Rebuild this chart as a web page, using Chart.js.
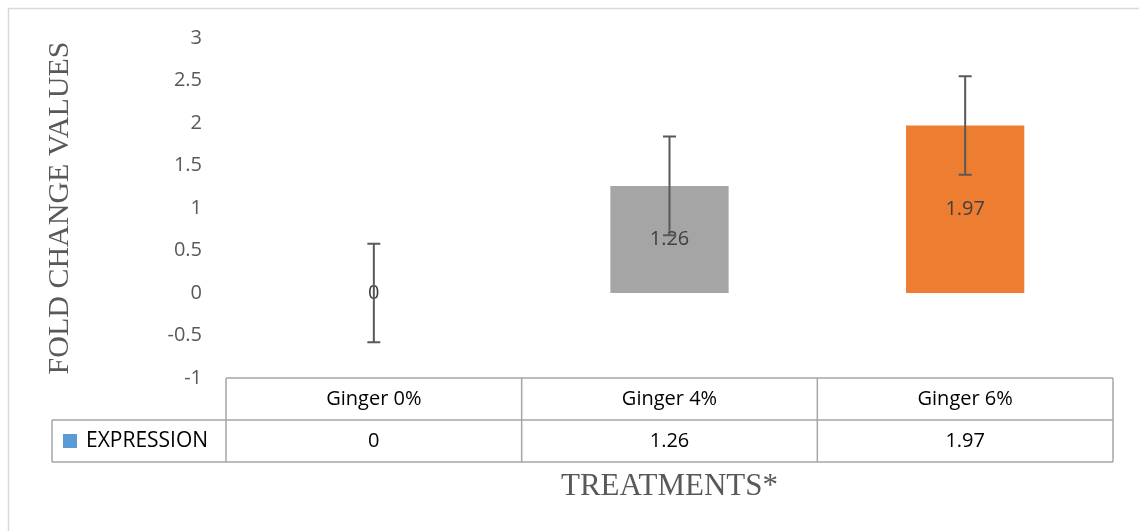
<!DOCTYPE html>
<html>
<head>
<meta charset="utf-8">
<script src="https://cdn.jsdelivr.net/npm/chart.js@4.4.1/dist/chart.umd.min.js"></script>
<style>
  html, body { margin: 0; padding: 0; background: #fff; }
  canvas { display: block; }
</style>
</head>
<body>
<canvas id="chart" width="1139" height="531"></canvas>
<script>
const categories = ['Ginger 0%', 'Ginger 4%', 'Ginger 6%'];
const expression = [0, 1.26, 1.97];
const errors = [0.58, 0.58, 0.58];
const valueLabels = ['0', '1.26', '1.97'];
const barColors = ['#5B9BD5', '#A5A5A5', '#ED7D31'];
const seriesName = 'EXPRESSION';
const yTitle = 'FOLD CHANGE VALUES';
const xTitle = 'TREATMENTS*';

const sans = '"Open Sans", sans-serif';
const serif = '"Liberation Serif", "Times New Roman", serif';

// light frame around the chart (only top/left show in the picture)
const framePlugin = {
    id: 'frame',
    beforeDraw(chart) {
        const ctx = chart.ctx;
        ctx.save();
        ctx.strokeStyle = '#d9d9d9';
        ctx.lineWidth = 1.5;
        ctx.beginPath();
        ctx.moveTo(8.5, chart.height + 2);
        ctx.lineTo(8.5, 8.5);
        ctx.lineTo(chart.width + 2, 8.5);
        ctx.stroke();
        ctx.restore();
    }
};

// value labels in the middle of each bar + error bars
const barExtras = {
    id: 'barExtras',
    afterDatasetsDraw(chart) {
        const ctx = chart.ctx, y = chart.scales.y;
        const meta = chart.getDatasetMeta(0);
        ctx.save();
        ctx.font = '20px ' + sans;
        ctx.fillStyle = '#404040';
        ctx.textAlign = 'center';
        ctx.textBaseline = 'middle';
        meta.data.forEach((bar, i) => {
            ctx.fillText(valueLabels[i], bar.x, (bar.y + bar.base) / 2);
        });
        ctx.strokeStyle = '#595959';
        ctx.lineWidth = 2;
        meta.data.forEach((bar, i) => {
            const v = expression[i], e = errors[i];
            const top = y.getPixelForValue(v + e), bot = y.getPixelForValue(v - e);
            ctx.beginPath();
            ctx.moveTo(bar.x, top); ctx.lineTo(bar.x, bot);
            ctx.moveTo(bar.x - 6.5, top); ctx.lineTo(bar.x + 6.5, top);
            ctx.moveTo(bar.x - 6.5, bot); ctx.lineTo(bar.x + 6.5, bot);
            ctx.stroke();
        });
        ctx.restore();
    }
};

// data table under the plot, plus x title
const dataTable = {
    id: 'dataTable',
    afterDraw(chart) {
        const ctx = chart.ctx, x = chart.scales.x, area = chart.chartArea;
        const n = categories.length;
        const cw = (area.right - area.left) / n;
        const rowH = 42;
        const y0 = area.bottom, y1 = y0 + rowH, y2 = y1 + rowH;
        const legLeft = 52;
        ctx.save();
        ctx.strokeStyle = '#a6a6a6';
        ctx.lineWidth = 1.5;
        ctx.beginPath();
        ctx.moveTo(area.left, y0); ctx.lineTo(area.right, y0);
        ctx.moveTo(legLeft, y1); ctx.lineTo(area.right, y1);
        ctx.moveTo(legLeft, y2); ctx.lineTo(area.right, y2);
        ctx.moveTo(legLeft, y1); ctx.lineTo(legLeft, y2);
        for (let i = 0; i <= n; i++) {
            const bx = area.left + i * cw;
            ctx.moveTo(bx, y0); ctx.lineTo(bx, y2);
        }
        ctx.stroke();

        ctx.font = '20px ' + sans;
        ctx.fillStyle = '#000';
        ctx.textAlign = 'center';
        ctx.textBaseline = 'middle';
        categories.forEach((c, i) => {
            const cx = x.getPixelForValue(i);
            ctx.fillText(c, cx, (y0 + y1) / 2);
            ctx.fillText(valueLabels[i], cx, (y1 + y2) / 2);
        });
        // legend key
        ctx.fillStyle = barColors[0];
        ctx.fillRect(63, (y1 + y2) / 2 - 7, 14, 14);
        ctx.fillStyle = '#000';
        ctx.textAlign = 'left';
        ctx.font = '21px ' + sans;
        ctx.fillText(seriesName, 86, (y1 + y2) / 2);

        ctx.font = '31px ' + serif;
        ctx.fillStyle = '#595959';
        ctx.textAlign = 'center';
        ctx.fillText(xTitle, (area.left + area.right) / 2, y2 + 25);
        ctx.restore();
    }
};

new Chart(document.getElementById('chart'), {
    type: 'bar',
    data: {
        labels: categories,
        datasets: [{
            label: seriesName,
            data: expression,
            backgroundColor: barColors,
            categoryPercentage: 1,
            barPercentage: 0.4
        }]
    },
    options: {
        responsive: false,
        animation: false,
        layout: { padding: { left: 0, right: 26, top: 38, bottom: 153 } },
        plugins: { legend: { display: false }, tooltip: { enabled: false } },
        scales: {
            x: { display: false },
            y: {
                min: -1, max: 3,
                afterFit: (scale) => { scale.width = 226; },
                ticks: {
                    stepSize: 0.5, padding: 24, color: '#595959',
                    font: { family: sans, size: 20 },
                    callback: (v) => String(v)
                },
                grid: { display: false, drawTicks: false },
                border: { display: false },
                title: {
                    display: true, text: yTitle, color: '#595959',
                    font: { family: serif, size: 30 },
                    padding: { top: 42, bottom: 0 }
                }
            }
        }
    },
    plugins: [framePlugin, barExtras, dataTable]
});
</script>
</body>
</html>
